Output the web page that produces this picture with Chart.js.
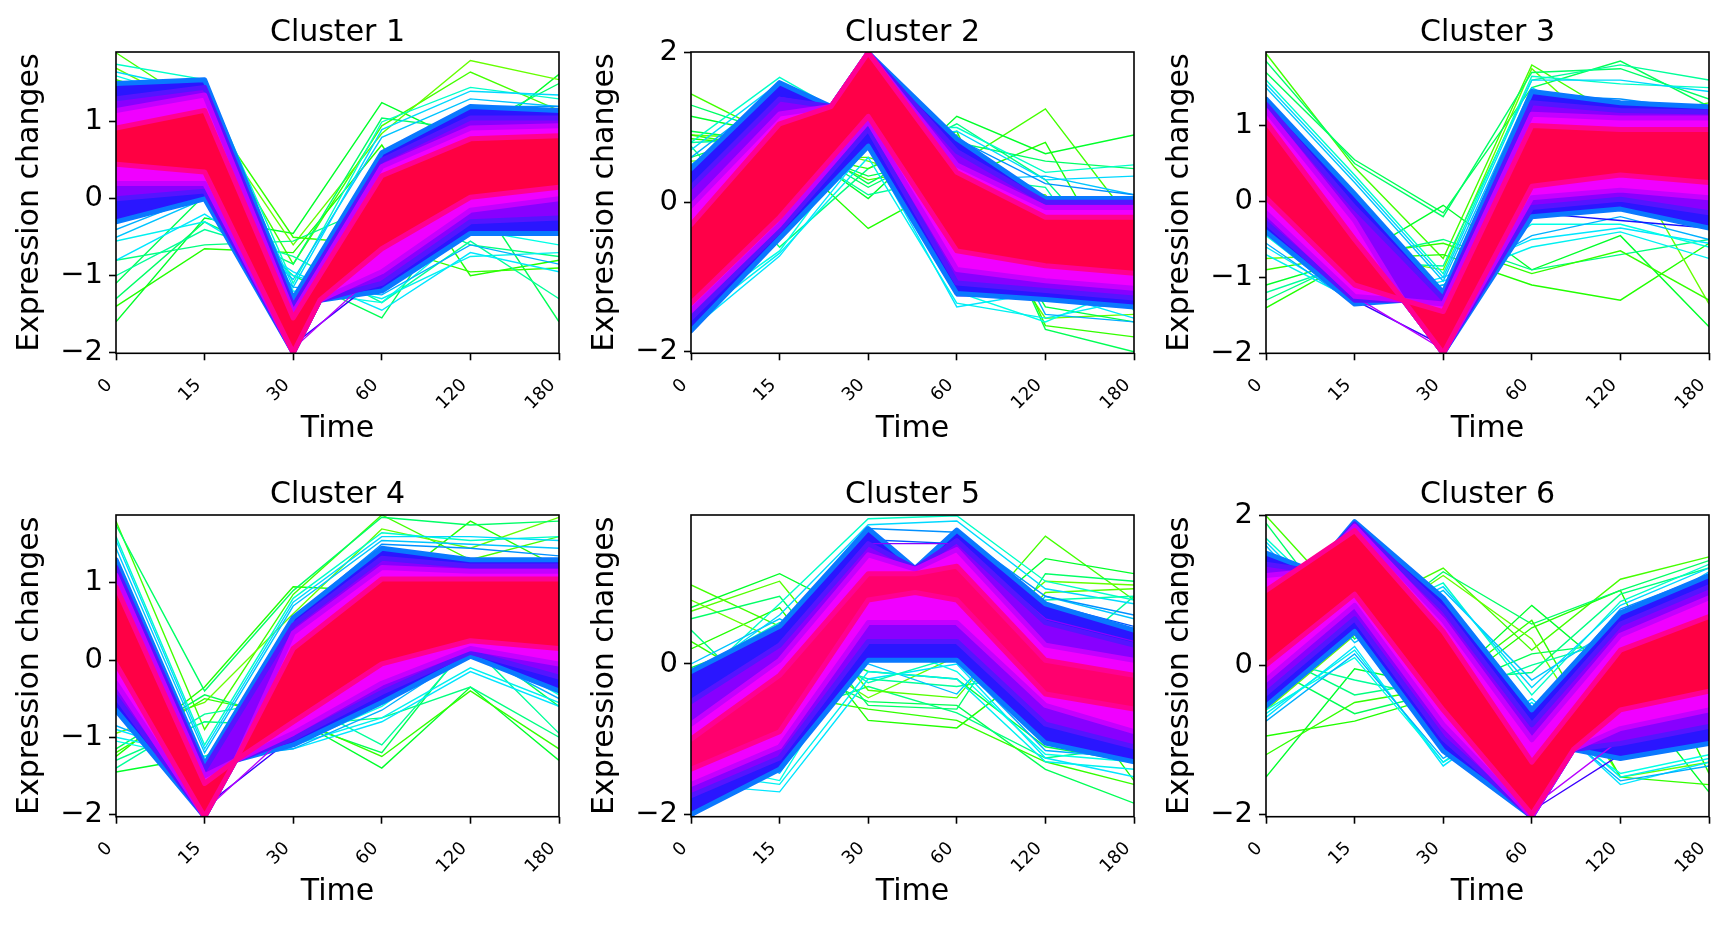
<!DOCTYPE html>
<html><head><meta charset="utf-8">
<script src="https://cdn.jsdelivr.net/npm/chart.js@4.4.1/dist/chart.umd.min.js"></script>
<style>
html,body{margin:0;padding:0;background:#fff;}
#wrap{position:relative;width:1725px;height:925px;overflow:hidden;}
#wrap canvas{position:absolute;}
</style>
</head><body><div id="wrap"></div>
<script>
// ---- axis / label data ----
const timeLabels = ['0', '15', '30', '60', '120', '180'];
const clusterTitles = ['Cluster 1', 'Cluster 2', 'Cluster 3', 'Cluster 4', 'Cluster 5', 'Cluster 6'];
const yRanges = [[-2.01, 1.91], [-2.02, 2.01], [-2.0, 1.97], [-2.03, 1.88], [-2.03, 1.98], [-2.03, 2.01]];
const yTicks = [[-2, -1, 0, 1], [-2, 0, 2], [-2, -1, 0, 1], [-2, -1, 0, 1], [-2, 0], [-2, 0, 2]];

// ---- Cluster 1 ---- (bands: outer blue, violet, magenta, red core; [time index, value])
const c1Blue = [[0,1.5],[1,1.55],[2,-1.3],[3,0.6],[4,1.2],[5,1.15],[5,-0.45],[4,-0.45],[3,-1.2],[2.3,-1.32],[2,-2.0],[1,0.0],[0,-0.3]];
const c1Vio  = [[0,1.3],[1,1.45],[2,-1.4],[3,0.5],[4,1.05],[5,1.05],[5,-0.25],[4,-0.3],[3,-1.1],[2.3,-1.32],[2,-2.0],[1,0.1],[0,0.0]];
const c1Mag  = [[0,1.15],[1,1.35],[2,-1.48],[3,0.42],[4,0.92],[5,0.95],[5,0.0],[4,-0.15],[3,-0.95],[2.3,-1.32],[2,-2.0],[1,0.2],[0,0.2]];
const c1Red  = [[0,0.92],[1,1.15],[2,-1.55],[3,0.3],[4,0.78],[5,0.82],[5,0.15],[4,0.02],[3,-0.65],[2.3,-1.32],[2,-2.0],[1,0.35],[0,0.45]];
const c1Green = [[1.9,1.15,-0.85,0.95,1.65,1.15],[-1.6,-0.25,-0.45,1.25,0.7,1.62],[-1.4,-0.65,-0.7,0.7,-1.0,-0.8],[-1.1,0.05,-1.0,-1.55,0.15,-1.6],[1.7,1.1,-0.6,0.85,1.8,1.55],[-0.8,-0.6,-0.55,-0.05,-0.6,-0.75],[-1.3,-0.3,-0.85,1.05,0.9,1.5],[1.55,1.2,-0.5,-0.6,-0.95,-0.9],[-1.0,-0.4,-0.75,-1.35,-0.55,-1.3]];
const c1Cyan = [[1.75,1.55,-1.1,1.0,1.45,1.3],[-0.8,-0.2,-0.95,-1.45,-0.7,-0.95],[-0.5,0.0,-1.05,0.8,1.3,1.2],[1.6,1.25,-1.2,-1.35,-0.4,-0.6],[1.65,1.4,-1.15,0.9,1.4,1.35],[-0.55,-0.3,-1.0,-1.3,-0.75,-0.7],[-0.4,0.05,-1.15,-1.25,-0.6,-0.85]];
const c1BlueL = [[1.45,1.5,-1.4,0.55,1.2,1.2],[-0.3,0.1,-1.35,-1.2,-0.45,-0.4],[1.3,1.05,-1.5,0.35,1.0,0.9],[0.0,0.2,-1.9,-1.0,-0.3,-0.2]];
const c1Violet = [[1.2,1.0,-1.6,0.45,0.95,1.0],[0.15,0.3,-1.95,-0.9,-0.15,-0.05]];

// ---- Cluster 2 ----
const c2Blue = [[0,0.45],[1,1.6],[1.58,1.28],[2,2.0],[3,0.85],[4,0.05],[5,0.05],[5,-1.4],[4,-1.3],[3,-1.22],[2,0.75],[1,-0.48],[0,-1.72]];
const c2Vio  = [[0,0.2],[1,1.38],[1.58,1.28],[2,2.0],[3,0.68],[4,0.0],[5,0.0],[5,-1.28],[4,-1.18],[3,-1.08],[2,0.98],[1,-0.38],[0,-1.55]];
const c2Mag  = [[0,-0.05],[1,1.18],[1.58,1.28],[2,2.0],[3,0.5],[4,-0.07],[5,-0.07],[5,-1.15],[4,-1.05],[3,-0.9],[2,1.08],[1,-0.3],[0,-1.45]];
const c2Red  = [[0,-0.3],[1,1.05],[1.58,1.28],[2,2.0],[3,0.4],[4,-0.2],[5,-0.2],[5,-0.95],[4,-0.85],[3,-0.65],[2,1.15],[1,-0.2],[0,-1.35]];
const c2Green = [[1.45,0.85,0.3,0.5,1.25,-0.3],[1.15,0.9,0.05,1.15,0.65,0.9],[0.85,0.75,-0.35,0.3,0.8,-1.3],[0.6,1.0,0.25,0.9,-1.7,-2.0],[0.9,0.85,0.55,0.2,-1.55,-1.5],[0.75,-0.6,0.45,1.05,0.3,-1.0],[1.3,0.9,0.2,0.8,0.55,0.45],[0.9,0.7,0.45,0.95,-1.65,-1.8],[0.8,0.85,0.1,0.35,0.2,-1.45],[0.55,0.6,0.6,0.25,0.1,-1.2],[0.95,0.8,0.35,0.6,-1.4,-1.6]];
const c2Cyan = [[0.8,1.67,1.0,1.0,0.4,0.5],[-1.7,-0.72,0.75,-1.4,-1.2,-1.55],[0.5,1.4,0.9,0.3,0.35,0.1],[-1.5,-0.65,0.95,-1.2,-1.6,-1.1],[0.7,1.6,0.8,0.95,0.3,0.35],[-1.6,-0.68,0.6,-1.35,-1.55,-1.3],[0.6,1.5,0.85,0.75,-1.5,-1.6]];
const c2BlueL = [[0.4,1.55,1.1,0.85,0.25,0.1],[-1.65,-0.45,0.9,-1.25,-1.25,-1.4],[0.1,1.45,1.05,0.7,0.05,0.0],[-1.4,-0.3,1.0,-1.05,-1.3,-1.2]];
const c2Violet = [[0.0,1.4,1.2,0.5,-0.05,-0.05],[-1.35,-0.2,1.15,-0.9,-1.15,-1.0]];

// ---- Cluster 3 ----
const c3Blue = [[0,1.35],[1,0.1],[2,-1.2],[3,1.45],[4,1.3],[5,1.25],[5,-0.35],[4,-0.1],[3,-0.2],[2,-2.0],[1.55,-1.3],[1,-1.35],[0,-0.4]];
const c3Vio  = [[0,1.28],[1,-0.08],[2,-1.28],[3,1.3],[4,1.2],[5,1.18],[5,-0.15],[4,0.03],[3,-0.08],[2,-2.0],[1.55,-1.3],[1,-1.3],[0,-0.28]];
const c3Mag  = [[0,1.2],[1,-0.25],[1.55,-1.3],[2,-1.35],[3,1.15],[4,1.1],[5,1.1],[5,0.05],[4,0.15],[3,0.05],[2,-2.0],[1.55,-1.3],[1,-1.25],[0,-0.15]];
const c3Red  = [[0,1.05],[1,-0.5],[1.55,-1.3],[2,-1.45],[3,1.0],[4,0.95],[5,0.95],[5,0.25],[4,0.35],[3,0.2],[2,-2.0],[1.55,-1.3],[1,-1.1],[0,0.05]];
const c3Green = [[1.95,0.45,-0.75,1.8,1.1,1.3],[-1.1,-0.75,-0.05,-0.9,-0.45,-1.65],[-1.4,-0.75,-0.7,-1.1,-1.3,-0.55],[1.7,0.55,-0.15,1.5,1.85,1.25],[-0.75,-0.7,-0.9,1.75,0.7,-1.35],[-1.3,-0.75,-0.5,-0.9,-0.7,-0.5],[1.85,0.5,-0.2,1.7,1.75,1.35],[-0.9,-0.7,-0.55,-0.95,-0.65,-1.3],[-1.2,-0.8,-0.85,1.6,1.8,1.6]];
const c3Cyan = [[1.6,0.35,-0.95,1.65,1.55,1.5],[-0.6,-1.3,-1.0,-0.5,-0.35,-0.55],[1.5,0.25,-1.05,1.5,0.9,1.2],[-0.45,-1.35,-1.1,-0.3,-0.3,-0.6],[1.55,0.3,-1.0,1.6,1.6,1.45],[-0.7,-1.3,-1.05,-0.6,-0.4,-0.75],[-0.55,-1.35,-1.1,-0.45,-0.2,-0.5]];
const c3BlueL = [[1.35,0.05,-1.2,1.4,1.35,1.2],[-0.35,-1.35,-1.25,-0.15,-0.25,-0.35],[1.25,-0.1,-1.3,1.3,1.0,1.1],[-0.2,-1.3,-1.9,0.0,0.05,-0.25]];
const c3Violet = [[1.2,-0.25,-1.35,1.15,1.2,1.05],[-0.1,-1.25,-1.95,0.1,0.15,0.0]];

// ---- Cluster 4 ----
const c4Blue = [[0,1.3],[1,-1.35],[2,0.55],[3,1.45],[4,1.3],[5,1.3],[5,-0.4],[4,0.05],[3,-0.55],[2,-1.1],[1.35,-1.3],[1,-2.03],[0,-0.65]];
const c4Vio  = [[0,1.2],[1,-1.42],[2,0.45],[3,1.32],[4,1.22],[5,1.22],[5,-0.22],[4,0.1],[3,-0.42],[2,-1.02],[1.35,-1.3],[1,-2.03],[0,-0.48]];
const c4Mag  = [[0,1.1],[1,-1.5],[1.35,-1.3],[2,0.35],[3,1.2],[4,1.15],[5,1.15],[5,-0.05],[4,0.15],[3,-0.3],[2,-0.95],[1.35,-1.3],[1,-2.03],[0,-0.3]];
const c4Red  = [[0,0.95],[1,-1.6],[1.35,-1.3],[2,0.15],[3,1.05],[4,1.05],[5,1.05],[5,0.15],[4,0.25],[3,-0.05],[2,-0.8],[1.35,-1.3],[1,-2.03],[0,-0.05]];
const c4Green = [[1.8,-0.9,0.85,1.88,1.3,1.6],[-1.45,-1.25,-0.75,-1.4,-0.35,-1.3],[-1.25,-0.35,0.95,0.9,1.8,1.2],[-1.15,-0.45,-0.8,-1.2,0.25,-0.6],[-0.95,-0.55,0.6,1.7,1.45,1.85],[-1.3,-0.8,-0.85,-0.75,-0.35,-1.0],[1.75,-0.4,0.9,1.85,1.75,1.8],[-1.2,-0.5,-0.75,-1.25,-0.4,-1.15],[-1.4,-0.7,-0.5,-1.1,0.2,-0.95]];
const c4Cyan = [[1.6,-1.1,0.8,1.65,1.55,1.6],[-0.9,-1.25,-1.15,-0.8,-0.15,-0.6],[1.45,-1.2,0.7,1.55,1.5,1.45],[-1.05,-1.3,-1.1,-0.6,0.2,-0.45],[1.55,-1.15,0.75,1.6,1.6,1.55],[-1.0,-1.25,-1.1,-0.75,-0.1,-0.55],[-0.85,-1.3,-1.15,-0.65,0.1,-0.5]];
const c4BlueL = [[1.3,-1.35,0.55,1.5,1.45,1.35],[-0.65,-1.4,-1.05,-0.55,0.1,-0.4],[1.2,-1.45,0.45,1.3,1.3,1.25],[-0.5,-1.9,-1.0,-0.45,0.15,-0.2]];
const c4Violet = [[1.1,-1.5,0.4,1.25,1.2,1.15],[-0.35,-1.95,-0.9,-0.35,0.2,0.0]];

// ---- Cluster 5 ----
const c5Blue = [[0,-0.1],[1,0.5],[2,1.8],[2.53,1.27],[3,1.78],[4,0.8],[5,0.45],[5,-1.3],[4,-1.05],[3,0.05],[2,0.05],[1,-1.4],[0,-2.0]];
const c5Vio  = [[0,-0.5],[1,0.25],[2,1.6],[2.53,1.27],[3,1.64],[4,0.55],[5,0.25],[5,-1.1],[4,-0.8],[3,0.3],[2,0.3],[1,-1.25],[0,-1.75]];
const c5Mag  = [[0,-0.8],[1,0.05],[2,1.45],[2.53,1.26],[3,1.52],[4,0.25],[5,0.05],[5,-0.9],[4,-0.55],[3,0.55],[2,0.55],[1,-1.1],[0,-1.6]];
const c5Red  = [[0,-1.0],[1,-0.15],[2,1.2],[2.53,1.2],[3,1.3],[4,0.05],[5,-0.15],[5,-0.6],[4,-0.4],[3,0.85],[2.53,0.95],[2,0.85],[1,-0.9],[0,-1.4]];
const c5Green = [[1.05,0.5,0.55,0.35,1.7,0.85],[0.75,1.2,0.6,0.4,1.4,1.2],[0.2,0.75,-0.75,-0.85,0.05,-1.55],[-0.2,0.05,-0.5,-0.55,-1.4,-1.85],[0.85,0.3,-0.45,0.1,1.1,1.05],[0.45,-0.7,-0.3,-0.65,-1.25,-1.1],[0.6,0.9,-0.55,-0.6,1.2,1.1],[0.3,-0.4,-0.6,-0.75,-1.3,-1.6],[-0.1,0.2,-0.2,-0.3,-0.1,0.9],[0.7,1.1,-0.35,-0.45,0.95,1.0],[-0.05,0.4,-0.1,-0.2,-1.1,-1.3]];
const c5Cyan = [[-0.3,0.8,1.93,1.97,1.1,0.85],[-1.6,-1.7,-0.2,0.0,-1.25,-1.5],[0.0,0.6,0.0,-0.4,0.9,0.6],[-1.3,-1.55,0.35,-0.1,-1.2,-1.3],[-0.2,0.65,1.85,1.9,1.0,0.8],[-1.45,-1.6,-0.1,-0.2,-1.3,-1.4],[-1.0,-1.45,0.2,0.05,-1.15,-1.25],[-0.1,0.55,-0.25,0.1,0.85,0.9]];
const c5BlueL = [[-0.35,0.45,1.8,1.75,0.9,0.65],[-2.03,-1.3,0.1,0.15,-1.0,-1.2],[-0.55,0.3,1.65,1.6,0.8,0.5],[-1.9,-1.2,0.3,0.35,-0.95,-1.0]];
const c5Violet = [[-0.5,0.2,1.6,1.6,0.6,0.3],[-1.7,-1.05,0.55,0.7,-0.8,-1.0]];

// ---- Cluster 6 ----
const c6Blue = [[0,1.5],[0.53,1.26],[1,1.92],[2,0.9],[3,-0.6],[4,0.7],[5,1.2],[5,-1.05],[4,-1.25],[3.47,-1.13],[3,-2.03],[2,-1.15],[1,0.45],[0,-0.55]];
const c6Vio  = [[0,1.35],[0.53,1.26],[1,1.89],[2,0.75],[3,-0.8],[4,0.55],[5,1.05],[5,-0.82],[4,-1.05],[3.47,-1.13],[3,-2.03],[2,-0.98],[1,0.62],[0,-0.38]];
const c6Mag  = [[0,1.2],[0.53,1.26],[1,1.86],[2,0.6],[3,-1.0],[4,0.4],[5,0.9],[5,-0.6],[4,-0.85],[3.47,-1.13],[3,-2.03],[2,-0.8],[1,0.8],[0,-0.2]];
const c6Red  = [[0,1.0],[1,1.8],[2,0.45],[3,-1.3],[4,0.2],[5,0.65],[5,-0.35],[4,-0.6],[3.47,-1.13],[3,-2.0],[2,-0.6],[1,0.95],[0,0.0]];
const c6Green = [[2.0,0.7,1.3,0.2,1.15,1.45],[-1.5,-0.05,-0.3,0.8,-0.2,-1.7],[-0.95,-0.75,-0.4,0.5,1.0,-1.45],[0.0,-0.65,-0.35,0.15,0.3,1.2],[-0.6,0.4,1.2,0.35,-1.5,-1.3],[0.2,-0.4,-0.2,-0.1,0.95,1.3],[1.9,0.35,1.25,0.55,1.0,1.4],[-1.2,-0.5,-0.3,0.6,-1.5,-1.6],[0.1,-0.2,-0.45,0.0,0.35,1.1]];
const c6Cyan = [[1.7,0.55,1.1,-0.4,0.85,1.35],[-0.7,0.25,-1.35,-0.5,-1.6,-1.3],[1.6,0.3,1.0,-0.2,0.55,1.25],[-0.6,0.1,-1.3,-0.65,-1.45,-1.2],[1.65,0.45,1.05,-0.3,0.8,1.3],[-0.65,0.2,-1.3,-0.45,-1.5,-1.25],[-0.75,0.15,-1.25,-0.55,-1.55,-1.35]];
const c6BlueL = [[1.5,0.5,0.9,-0.6,0.75,1.2],[-0.55,0.45,-1.15,-0.9,-1.25,-1.05],[1.4,0.65,0.85,-0.7,0.6,1.05],[-0.45,0.6,-1.0,-1.95,-1.2,-0.9]];
const c6Violet = [[1.3,0.8,0.75,-0.8,0.45,0.95],[-0.25,0.85,-0.75,-1.9,-1.0,-0.8]];

const clusters = [
  {band: [c1Blue, c1Vio, c1Mag, c1Red], green: c1Green, cyan: c1Cyan, blue: c1BlueL, violet: c1Violet},
  {band: [c2Blue, c2Vio, c2Mag, c2Red], green: c2Green, cyan: c2Cyan, blue: c2BlueL, violet: c2Violet},
  {band: [c3Blue, c3Vio, c3Mag, c3Red], green: c3Green, cyan: c3Cyan, blue: c3BlueL, violet: c3Violet},
  {band: [c4Blue, c4Vio, c4Mag, c4Red], green: c4Green, cyan: c4Cyan, blue: c4BlueL, violet: c4Violet},
  {band: [c5Blue, c5Vio, c5Mag, c5Red], green: c5Green, cyan: c5Cyan, blue: c5BlueL, violet: c5Violet},
  {band: [c6Blue, c6Vio, c6Mag, c6Red], green: c6Green, cyan: c6Cyan, blue: c6BlueL, violet: c6Violet}
];

// ---- styles ----
const FONT = '"DejaVu Sans", "Liberation Sans", sans-serif';
const greenCols = ['#44ff00', '#00ff2a', '#22ff00', '#00ff55', '#66ff00', '#00ff80', '#00ff66', '#33ff00', '#00ff99', '#55ff00', '#00ff44'];
const cyanCols = ['#00ffc8', '#00e6ff', '#00c4ff', '#00ffe6', '#00d8ff', '#00f0f0', '#00b0ff', '#00ffb0'];
const blueCols = ['#0090ff', '#1414ff', '#0058ff', '#3a00ff'];
const violetCols = ['#8a00ff', '#b800ff'];
const bandCols = ['#2a16ff', '#8800ff', '#f000ff'];
const edgeCols = ['#0a78ff', '#5514ff', '#c400ff'];
const redEdge = '#ff0092';
const redCols = ['#ff0042', '#ff0048', '#ff004c', '#ff0045', '#ff006e', '#ff0042'];

function lineDs(vals, color) {
  return {data: vals.map((v, k) => ({x: k, y: v})), borderColor: color, backgroundColor: color,
    borderWidth: 1.4, pointRadius: 0, fill: false, tension: 0, clip: 0};
}
function polyDs(pts, color) {
  return {data: pts.map(p => ({x: p[0], y: p[1]})), borderColor: color, backgroundColor: color,
    borderWidth: 1, pointRadius: 0, fill: 'shape', tension: 0, clip: 0};
}
// soft edge: the polygon's upper path and lower path stroked wide in an in-between hue
function edgeDs(pts, color) {
  const cut = pts.findIndex(p => p[0] === 5);
  const parts = [pts.slice(0, cut + 1), pts.slice(cut + 1)];
  return parts.map(part => ({data: part.map(p => ({x: p[0], y: p[1]})), borderColor: color,
    backgroundColor: color, borderWidth: 5, borderJoinStyle: 'round', borderCapStyle: 'round',
    pointRadius: 0, fill: false, tension: 0, clip: 0}));
}

const framePlugin = {
  id: 'frame',
  afterDraw(chart, args, opts) {
    const {ctx, chartArea: a} = chart;
    ctx.save();
    ctx.strokeStyle = '#000';
    ctx.lineWidth = 1.6;
    ctx.strokeRect(a.left, a.top, a.right - a.left, a.bottom - a.top);
    ctx.fillStyle = '#000';
    ctx.font = '30px ' + FONT;
    ctx.textAlign = 'center';
    ctx.textBaseline = 'alphabetic';
    ctx.fillText(opts.title, (a.left + a.right) / 2, opts.titleY);
    ctx.restore();
  }
};

const wrap = document.getElementById('wrap');
clusters.forEach((cl, i) => {
  const col = i % 3, row = Math.floor(i / 3);
  const W = 575, H = row === 0 ? 462 : 463;
  const cv = document.createElement('canvas');
  cv.width = W; cv.height = H;
  cv.style.left = (col * 575) + 'px';
  cv.style.top = (row * 462) + 'px';
  cv.style.width = W + 'px'; cv.style.height = H + 'px';
  wrap.appendChild(cv);

  const layers = [];
  cl.green.forEach((v, k) => layers.push(lineDs(v, greenCols[k % greenCols.length])));
  cl.cyan.forEach((v, k) => layers.push(lineDs(v, cyanCols[k % cyanCols.length])));
  cl.blue.forEach((v, k) => layers.push(lineDs(v, blueCols[k % blueCols.length])));
  layers.push(polyDs(cl.band[0], bandCols[0]));
  layers.push(...edgeDs(cl.band[0], edgeCols[0]));
  cl.violet.forEach((v, k) => layers.push(lineDs(v, violetCols[k % violetCols.length])));
  layers.push(polyDs(cl.band[1], bandCols[1]));
  layers.push(...edgeDs(cl.band[1], edgeCols[1]));
  layers.push(polyDs(cl.band[2], bandCols[2]));
  layers.push(...edgeDs(cl.band[2], edgeCols[2]));
  layers.push(polyDs(cl.band[3], redCols[i]));
  layers.push(...edgeDs(cl.band[3], redEdge));
  layers.forEach((d, k) => { d.order = layers.length - k; });

  const padTop = row === 0 ? 52 : 53;
  const xH = row === 0 ? 108.7 : 108.3;
  const grid = {display: true, drawOnChartArea: false, drawTicks: true, tickLength: 7, tickWidth: 1.6, tickColor: '#000'};

  new Chart(cv, {
    type: 'line',
    data: {datasets: layers},
    plugins: [framePlugin],
    options: {
      responsive: false, animation: false, devicePixelRatio: 1,
      parsing: false, normalized: true,
      layout: {padding: {top: padTop, right: 16, left: 0, bottom: 0}},
      plugins: {legend: {display: false}, tooltip: {enabled: false},
        frame: {title: clusterTitles[i], titleY: 41}},
      scales: {
        x: {
          type: 'linear', min: 0, max: 5,
          afterBuildTicks: s => { s.ticks = timeLabels.map((t, k) => ({value: k})); },
          afterFit: s => { s.height = xH; s.paddingLeft = 0; s.paddingRight = 0; },
          ticks: {autoSkip: false, maxRotation: 45, minRotation: 45, padding: 8, color: '#000',
            font: {family: FONT, size: 18}, callback: v => timeLabels[v] + '\u2002'},
          grid: grid, border: {display: false},
          title: {display: true, text: 'Time', color: '#000', font: {family: FONT, size: 30},
            padding: {top: 0, bottom: 15}}
        },
        y: {
          type: 'linear', min: yRanges[i][0], max: yRanges[i][1],
          afterBuildTicks: s => { s.ticks = yTicks[i].map(v => ({value: v})); },
          afterFit: s => { s.width = 116; s.paddingTop = 0; s.paddingBottom = 0; },
          ticks: {padding: 6, color: '#000', font: {family: FONT, size: 29},
            callback: v => String(v).replace('-', '\u2212')},
          grid: grid, border: {display: false},
          title: {display: true, text: 'Expression changes', color: '#000', font: {family: FONT, size: 30},
            padding: {top: 12, bottom: 0}}
        }
      }
    }
  });
});
</script>
</body></html>
